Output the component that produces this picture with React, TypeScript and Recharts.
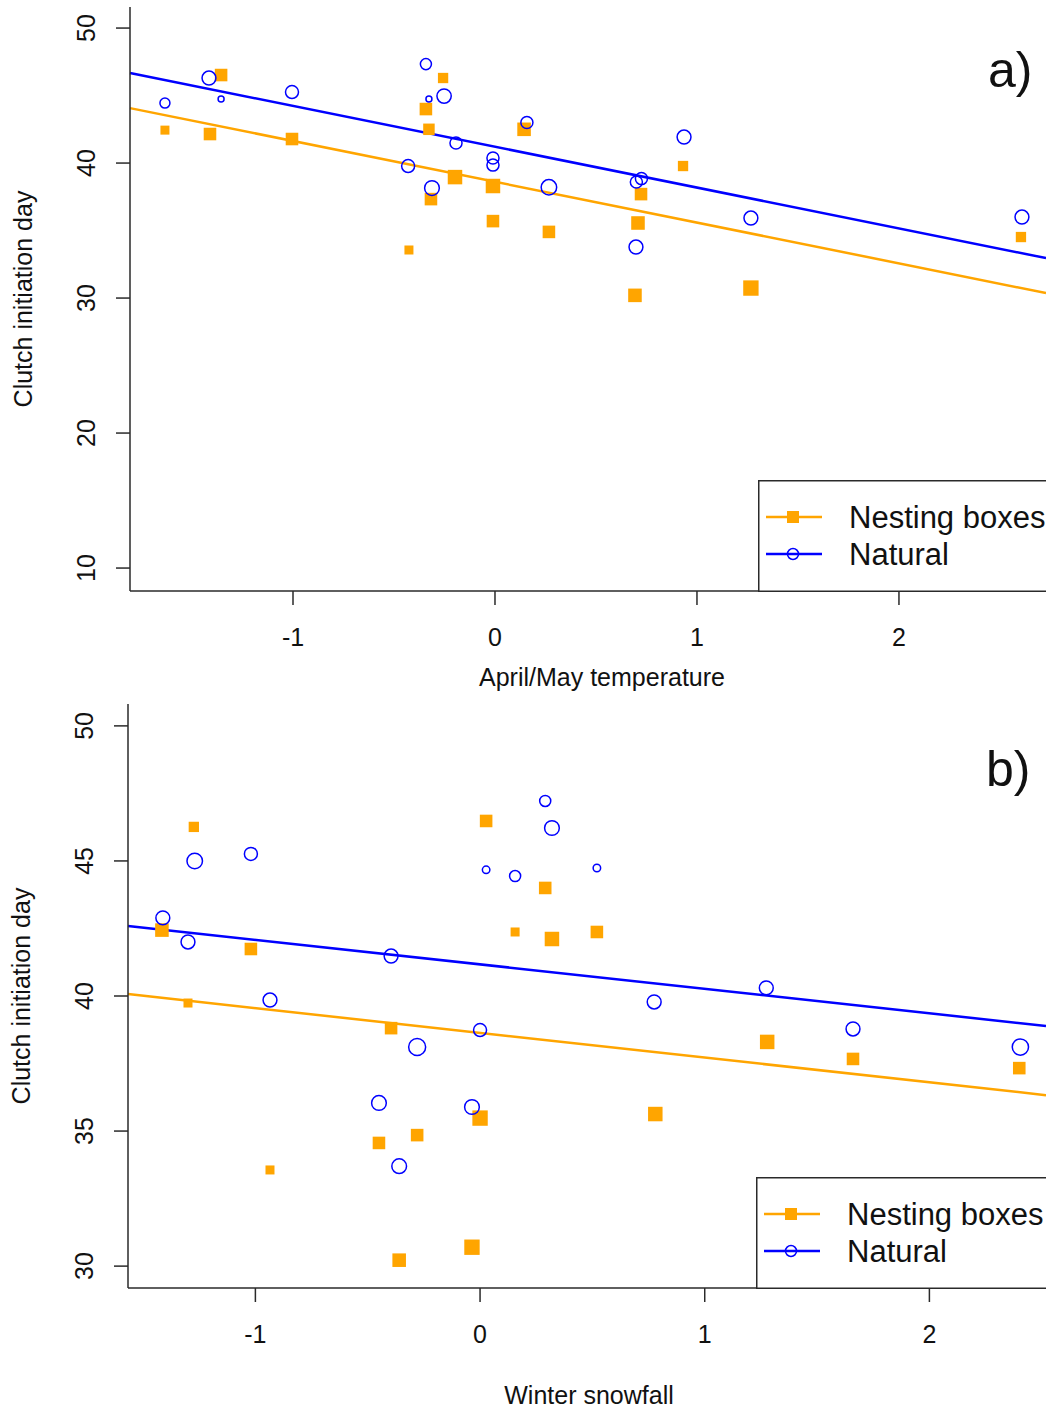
import React from "react";
import { Legend, ReferenceLine, Scatter, ScatterChart, XAxis, YAxis, ZAxis } from "recharts";

const ORANGE = "#FFA500";
const BLUE = "#0000FF";
const INK = "#2a2a2a";
const FONT = '"Liberation Sans", Arial, sans-serif';

// Panel a) April/May temperature
const aNestX = [-1.356, -1.634, -1.411, -1.005, -0.257, -0.342, -0.327, -0.198, -0.01, -0.317, -0.01, -0.426, 0.144, 0.267, 0.708, 0.693, 0.723, 0.931, 1.267, 2.604];
const aNestY = [46.52, 42.44, 42.15, 41.78, 46.3, 44.0, 42.5, 38.96, 38.3, 37.33, 35.7, 33.56, 42.5, 34.9, 35.56, 30.2, 37.7, 39.78, 30.74, 34.52];
const aNestN = [2.5, 1, 2.5, 2.5, 1.5, 2.5, 2, 3.5, 3.5, 2.5, 2.5, 1, 3, 2.5, 3, 3, 2.5, 1.5, 4, 1.5];
const aNatX = [-1.634, -1.416, -1.356, -1.005, -0.342, -0.327, -0.252, -0.193, -0.43, -0.312, -0.01, -0.01, 0.158, 0.267, 0.698, 0.7, 0.725, 0.936, 1.267, 2.609];
const aNatY = [44.44, 46.3, 44.74, 45.26, 47.33, 44.74, 44.96, 41.48, 39.78, 38.15, 40.37, 39.85, 43.0, 38.2, 33.78, 38.6, 38.85, 41.93, 35.93, 36.0];
const aNatN = [2, 4, 0.5, 3.5, 2.5, 0.5, 4.25, 3, 3.5, 4.5, 3, 3, 3, 5, 4, 3, 3, 4, 4, 4];
const aLineX = [-1.807, 2.728];
const aNestLine = [44.07, 30.37];
const aNatLine = [46.67, 32.96];

// Panel b) Winter snowfall
const bNestX = [-1.274, -1.416, -1.02, -1.3, -0.396, 0.027, 0.29, 0.156, 0.32, 0.52, 0, 0.78, -0.45, -0.28, -0.036, -0.36, -0.935, 1.278, 1.66, 2.4];
const bNestY = [46.26, 42.44, 41.74, 39.74, 38.81, 46.48, 44.0, 42.37, 42.11, 42.37, 35.48, 35.63, 34.56, 34.85, 30.7, 30.22, 33.56, 38.3, 37.67, 37.33];
const bNestN = [1.5, 3, 2.5, 1, 2.5, 2.5, 2.5, 1, 3.5, 2.5, 4, 3.5, 2.5, 2.5, 4, 3, 1, 3.5, 2.5, 2.5];
const bNatX = [-1.27, -1.02, -1.412, -1.3, -0.396, -0.935, 0.29, 0.32, 0.027, 0.156, 0.52, 0.775, 0, -0.28, -0.45, -0.036, -0.36, 1.274, 1.66, 2.405];
const bNatY = [45.0, 45.26, 42.89, 42.0, 41.48, 39.85, 47.22, 46.22, 44.67, 44.44, 44.74, 39.78, 38.74, 38.11, 36.04, 35.89, 33.7, 40.3, 38.78, 38.11];
const bNatN = [5, 3.5, 4, 4, 4, 4, 2.5, 4.5, 1, 2.5, 1, 4, 3.5, 6, 4.5, 4.5, 4.5, 4, 4, 5.5];
const bLineX = [-1.567, 2.519];
const bNestLine = [40.07, 36.33];
const bNatLine = [42.59, 38.89];

const xTicks = [-1, 0, 1, 2];
const aYTicks = [10, 20, 30, 40, 50];
const bYTicks = [30, 35, 40, 45, 50];

const zip = (xs: number[], ys: number[], ns: number[]) => xs.map((x, i) => ({ x, y: ys[i], n: ns[i] }));

function Square(p: any) {
  const s = p.width - 1;
  return <rect x={p.cx - s / 2} y={p.cy - s / 2} width={s} height={s} fill={ORANGE} />;
}

function Ring(p: any) {
  const r = (p.width - 1) / 2 - 0.75;
  return <circle cx={p.cx} cy={p.cy} r={r} fill="none" stroke={BLUE} strokeWidth={1.5} />;
}

const XTick = ({ x, y, payload }: any) => (
  <text x={x} y={y} dy="0.72em" textAnchor="middle" fontSize={25} fill="#111" fontFamily={FONT}>
    {payload.value}
  </text>
);

const YTick = ({ x, y, payload }: any) => (
  <text x={x} y={y} transform={`rotate(-90 ${x} ${y})`} textAnchor="middle" fontSize={25} fill="#111" fontFamily={FONT}>
    {payload.value}
  </text>
);

// legend box: bottom edge sits on the x axis line
function LegendBox() {
  return (
    <svg width={292} height={112} style={{ display: "block" }}>
      <rect x={0.75} y={0.75} width={400} height={110.5} fill="#fff" stroke={INK} strokeWidth={1.5} />
      <line x1={8} x2={64} y1={37} y2={37} stroke={ORANGE} strokeWidth={2.5} />
      <rect x={29} y={31} width={12} height={12} fill={ORANGE} />
      <text x={91} y={48} fontSize={31} fill="#111" fontFamily={FONT}>Nesting boxes</text>
      <line x1={8} x2={64} y1={74} y2={74} stroke={BLUE} strokeWidth={2.5} />
      <circle cx={35} cy={74} r={5.5} fill="none" stroke={BLUE} strokeWidth={1.5} />
      <text x={91} y={85} fontSize={31} fill="#111" fontFamily={FONT}>Natural</text>
    </svg>
  );
}

type PanelProps = {
  nest: { x: number; y: number; n: number }[];
  nat: { x: number; y: number; n: number }[];
  xDomain: [number, number];
  yDomain: [number, number];
  yTicks: number[];
  lineX: number[];
  nestLine: number[];
  natLine: number[];
  xTitle: string;
  xTitleShift: number;
  height: number;
  axisHeight: number;
  yAxisWidth: number;
  legendLeft: number;
  yTitleX: number;
};

function Panel(p: PanelProps) {
  const axisStyle = { stroke: INK, strokeWidth: 1.5 };
  return (
    <ScatterChart width={1046} height={p.height} margin={{ top: 7, right: 0, bottom: p.height - 7 - 584 - p.axisHeight, left: 0 }}>
      <XAxis
        type="number"
        dataKey="x"
        domain={p.xDomain}
        ticks={xTicks}
        allowDataOverflow
        height={p.axisHeight}
        tickSize={14}
        tickMargin={23}
        tick={<XTick />}
        axisLine={axisStyle}
        tickLine={axisStyle}
        label={{
          content: (lp: any) => (
            <text
              x={lp.viewBox.x + lp.viewBox.width / 2 + p.xTitleShift}
              y={lp.viewBox.y + lp.viewBox.height}
              textAnchor="middle"
              fontSize={25}
              fill="#111"
              fontFamily={FONT}
            >
              {p.xTitle}
            </text>
          ),
        }}
      />
      <XAxis
        xAxisId="top"
        orientation="top"
        type="number"
        domain={p.xDomain}
        allowDataOverflow
        height={0}
        tick={false}
        tickLine={false}
        axisLine={axisStyle}
      />
      <YAxis
        type="number"
        dataKey="y"
        domain={p.yDomain}
        ticks={p.yTicks}
        allowDataOverflow
        width={p.yAxisWidth}
        tickSize={14}
        tickMargin={21}
        tick={<YTick />}
        axisLine={axisStyle}
        tickLine={axisStyle}
        label={{
          content: (lp: any) => {
            const cx = lp.viewBox.x + p.yTitleX;
            const cy = lp.viewBox.y + lp.viewBox.height / 2;
            return (
              <text x={cx} y={cy} transform={`rotate(-90 ${cx} ${cy})`} textAnchor="middle" fontSize={25} fill="#111" fontFamily={FONT}>
                Clutch initiation day
              </text>
            );
          },
        }}
      />
      <ZAxis type="number" dataKey="n" domain={[0, 6]} range={[34.5, 298.5]} />
      <ReferenceLine
        segment={[{ x: p.lineX[0], y: p.nestLine[0] }, { x: p.lineX[1], y: p.nestLine[1] }]}
        stroke={ORANGE}
        strokeWidth={2.5}
        ifOverflow="visible"
      />
      <ReferenceLine
        segment={[{ x: p.lineX[0], y: p.natLine[0] }, { x: p.lineX[1], y: p.natLine[1] }]}
        stroke={BLUE}
        strokeWidth={2.5}
        ifOverflow="visible"
      />
      <Scatter name="Nesting boxes" data={p.nest} shape={Square} isAnimationActive={false} />
      <Scatter name="Natural" data={p.nat} shape={Ring} isAnimationActive={false} />
      <Legend
        layout="vertical"
        align="center"
        verticalAlign="middle"
        content={() => <LegendBox />}
        wrapperStyle={{ left: p.legendLeft, top: 480, right: "auto", bottom: "auto", width: 292, height: 112 }}
      />
    </ScatterChart>
  );
}

export default function App() {
  return (
    <div style={{ position: "absolute", left: 0, top: 0, width: 1046, height: 1414, overflow: "hidden", background: "#fff", fontFamily: FONT }}>
      <div style={{ position: "absolute", left: 0, top: 0 }}>
        <Panel
          nest={zip(aNestX, aNestY, aNestN)}
          nat={zip(aNatX, aNatY, aNatN)}
          xDomain={[-1.807, 2.728]}
          yDomain={[8.3, 51.56]}
          yTicks={aYTicks}
          lineX={aLineX}
          nestLine={aNestLine}
          natLine={aNatLine}
          xTitle="April/May temperature"
          xTitleShift={14}
          height={700}
          axisHeight={95}
          yAxisWidth={130}
          legendLeft={758}
          yTitleX={32}
        />
      </div>
      <div style={{ position: "absolute", left: 0, top: 697 }}>
        <Panel
          nest={zip(bNestX, bNestY, bNestN)}
          nat={zip(bNatX, bNatY, bNatN)}
          xDomain={[-1.567, 2.519]}
          yDomain={[29.19, 50.81]}
          yTicks={bYTicks}
          lineX={bLineX}
          nestLine={bNestLine}
          natLine={bNatLine}
          xTitle="Winter snowfall"
          xTitleShift={2}
          height={717}
          axisHeight={116}
          yAxisWidth={128}
          legendLeft={756}
          yTitleX={30}
        />
      </div>
      <svg width={1046} height={1414} style={{ position: "absolute", left: 0, top: 0, pointerEvents: "none" }}>
        <text x={988} y={87} fontSize={50} fill="#111" fontFamily={FONT}>a)</text>
        <text x={986} y={786} fontSize={50} fill="#111" fontFamily={FONT}>b)</text>
      </svg>
    </div>
  );
}
